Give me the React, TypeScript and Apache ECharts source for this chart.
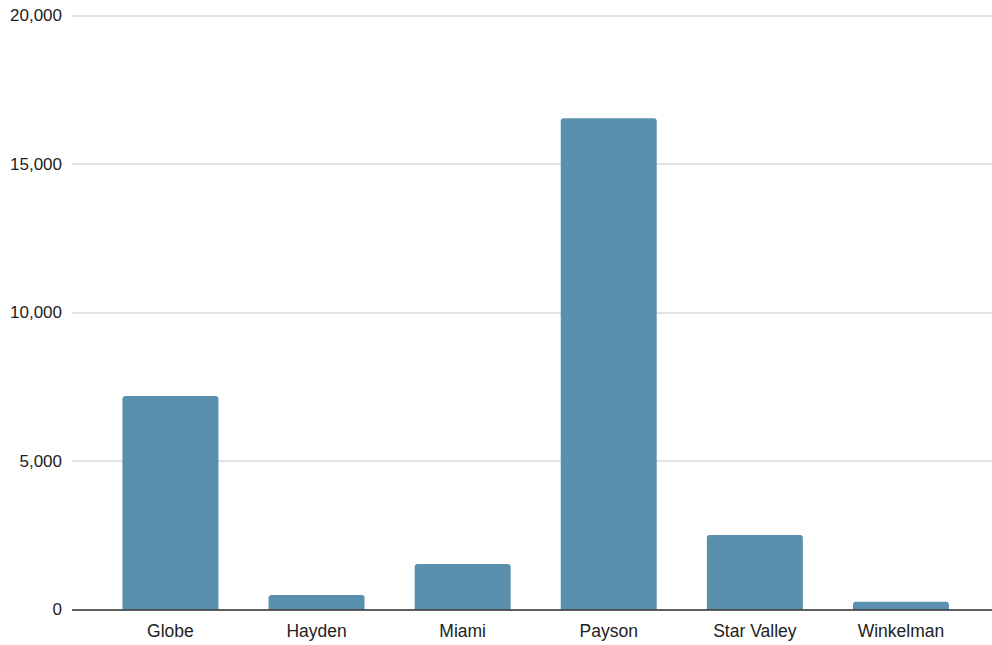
import React, { useEffect, useRef } from "react";
import * as echarts from "echarts";

const categories = ["Globe", "Hayden", "Miami", "Payson", "Star Valley", "Winkelman"];
const values = [7195, 498, 1541, 16540, 2517, 273];
const yTicks = [0, 5000, 10000, 15000, 20000];

export default function App() {
  const ref = useRef<HTMLDivElement>(null);
  useEffect(() => {
    if (!ref.current) return;
    const chart = echarts.init(ref.current, undefined, { renderer: "svg" });
    const fmt = (v: number) => v.toLocaleString("en-US");
    chart.setOption({
      animation: false,
      backgroundColor: "#ffffff",
      textStyle: { fontFamily: "Liberation Sans, Arial, sans-serif" },
      grid: [
        { left: 97.4, right: 18, top: 15.5, bottom: 35.2 },
        { left: 72, right: 0, top: 15.5, bottom: 35.2 },
      ],
      xAxis: [
        {
          type: "category",
          gridIndex: 0,
          data: categories,
          axisLine: { show: false },
          axisTick: { show: false },
          axisLabel: { fontSize: 17.5, color: "#222222", margin: 12 },
        },
        {
          type: "value",
          gridIndex: 1,
          min: 0,
          max: 1,
          show: false,
        },
      ],
      yAxis: [
        {
          type: "value",
          gridIndex: 0,
          min: yTicks[0],
          max: yTicks[yTicks.length - 1],
          interval: 5000,
          show: false,
        },
        {
          type: "value",
          gridIndex: 1,
          min: yTicks[0],
          max: yTicks[yTicks.length - 1],
          interval: 5000,
          axisLine: { show: false },
          axisTick: { show: false },
          axisLabel: {
            fontSize: 17,
            color: "#222222",
            margin: 10,
            formatter: (v: number) => fmt(v),
          },
          splitLine: { show: true, lineStyle: { color: "#d9d9d9", width: 1.5 } },
        },
      ],
      series: [
        {
          type: "bar",
          xAxisIndex: 0,
          yAxisIndex: 0,
          data: values,
          barCategoryGap: "34.3%",
          itemStyle: { color: "#5a90ae", borderRadius: [3, 3, 0, 0] },
        },
        {
          type: "line",
          xAxisIndex: 1,
          yAxisIndex: 1,
          data: [],
          silent: true,
          markLine: {
            silent: true,
            symbol: "none",
            label: { show: false },
            lineStyle: { color: "#333333", width: 1.5, type: "solid" },
            data: [[{ coord: [0, 0] }, { coord: [1, 0] }]],
          },
        },
      ],
    });
    return () => chart.dispose();
  }, []);
  return (
    <div
      ref={ref}
      style={{ position: "fixed", left: 0, top: 0, width: 992, height: 645 }}
    />
  );
}
